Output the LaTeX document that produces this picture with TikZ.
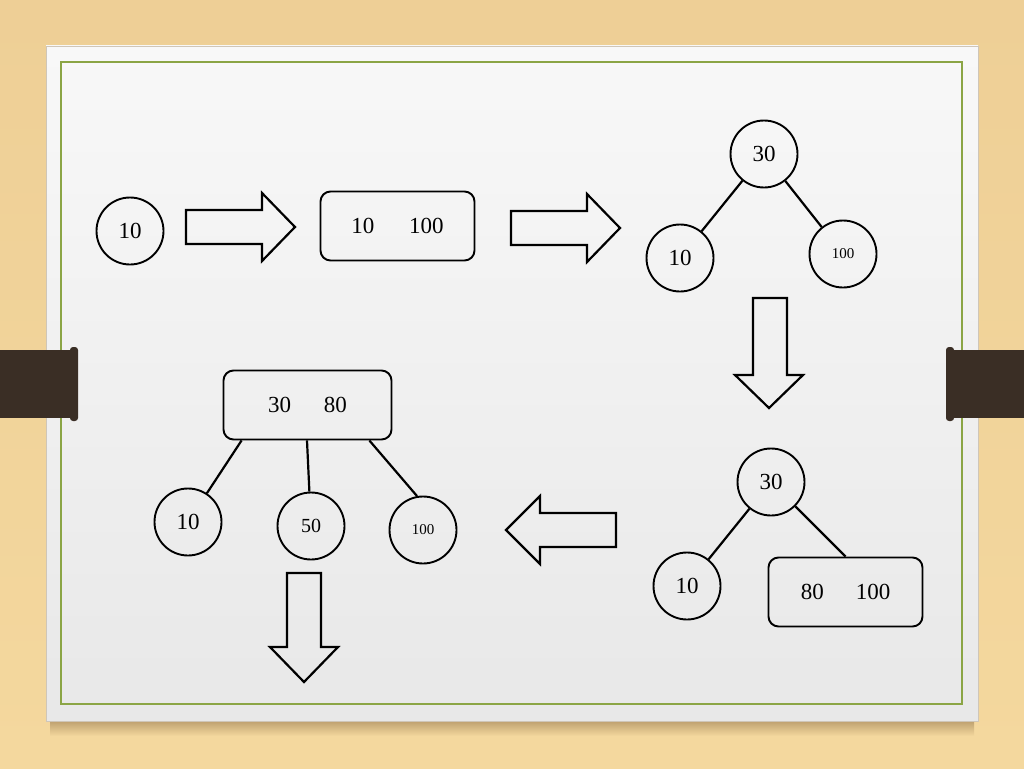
\documentclass[tikz,border=0pt]{standalone}
\usepackage{fontspec}
\setmainfont{Liberation Serif}
\usetikzlibrary{calc}
\definecolor{woodtop}{HTML}{EECF96}
\definecolor{woodbot}{HTML}{F4D89E}
\definecolor{shadowc}{HTML}{A88A5C}
\definecolor{papertop}{HTML}{F8F8F8}
\definecolor{paperbot}{HTML}{E8E8E8}
\definecolor{papered}{HTML}{CFC6B8}
\definecolor{frame}{HTML}{8BA545}
\definecolor{clipc}{HTML}{3A2E25}
\begin{document}
\begin{tikzpicture}[x=1pt,y=-1pt,
  circ/.style={circle,draw,line width=1.9pt,minimum size=67pt,inner sep=0pt,font=\fontsize{23}{23}\selectfont},
  smalltxt/.style={font=\fontsize{15}{15}\selectfont},
  midtxt/.style={font=\fontsize{20}{20}\selectfont},
  rbox/.style={rectangle,rounded corners=10pt,draw,line width=1.9pt,minimum height=69pt,inner sep=0pt,font=\fontsize{23}{23}\selectfont},
  edge/.style={line width=2.2pt},
  blockarrow/.style={draw,line width=2.2pt,line join=miter}]
\useasboundingbox (0,0) rectangle (1024,768);
% wood background
\shade[top color=woodtop,bottom color=woodbot] (0,0) rectangle (1024,768);
% shadow under paper
\shade[top color=shadowc,bottom color=woodbot,opacity=0.7] (50,721) rectangle (974,736);
% paper
\shade[top color=papertop,bottom color=paperbot,draw=papered,line width=0.8pt] (46,46) rectangle (978,721);
% green frame
\draw[frame,line width=2pt] (61,62) rectangle (962,704);
% clips
\fill[clipc] (0,350) rectangle (74,418);
\fill[clipc,rounded corners=3pt] (70,347) rectangle (78,421);
\fill[clipc] (950,350) rectangle (1024,418);
\fill[clipc,rounded corners=3pt] (946,347) rectangle (954,421);

% row 1
\node[circ] (a10) at (130,231) {10};
\draw[blockarrow] (186,210) -- (262,210) -- (262,193) -- (295,227) -- (262,261) -- (262,244) -- (186,244) -- cycle;
\node[rbox,minimum width=154pt] (b1) at (397.5,226) {10\hspace{35pt}100};
\draw[blockarrow] (511,211) -- (587,211) -- (587,194) -- (620,228) -- (587,262) -- (587,245) -- (511,245) -- cycle;

% tree 1
\node[circ] (t1r) at (764,154) {30};
\node[circ] (t1a) at (680,258) {10};
\node[circ,smalltxt] (t1b) at (843,254) {100};
\draw[edge] (t1r) -- (t1a);
\draw[edge] (t1r) -- (t1b);

\draw[blockarrow] (753,298) -- (787,298) -- (787,375) -- (803,375) -- (769,408) -- (735,375) -- (753,375) -- cycle;

% tree 2
\node[circ] (t2r) at (771,482) {30};
\node[circ] (t2a) at (687,586) {10};
\node[rbox,minimum width=154pt] (t2b) at (845.5,592) {80\hspace{32pt}100};
\draw[edge] (t2r) -- (t2a);
\draw[edge] (t2r) -- (t2b.north);

\draw[blockarrow] (616,513) -- (540,513) -- (540,496) -- (506,530) -- (540,564) -- (540,547) -- (616,547) -- cycle;

% tree 3
\node[rbox,minimum width=168pt] (t3r) at (307.5,405) {30\hspace{33pt}80};
\node[circ] (t3a) at (188,522) {10};
\node[circ,midtxt] (t3b) at (311,526) {50};
\node[circ,smalltxt] (t3c) at (423,530) {100};
\draw[edge] ($(t3r.south west)!0.112!(t3r.south east)$) -- (t3a);
\draw[edge] ($(t3r.south west)!0.497!(t3r.south east)$) -- (t3b);
\draw[edge] ($(t3r.south west)!0.864!(t3r.south east)$) -- (t3c.100);

\draw[blockarrow] (287,573) -- (321,573) -- (321,647) -- (338,647) -- (304,682) -- (270,647) -- (287,647) -- cycle;
\end{tikzpicture}
\end{document}
